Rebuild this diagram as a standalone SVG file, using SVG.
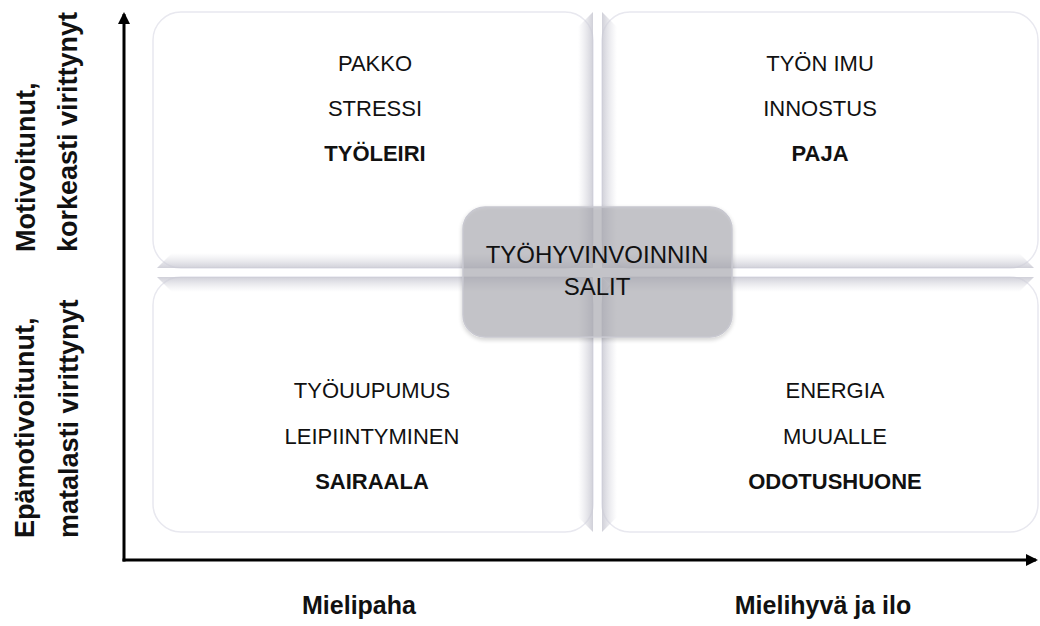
<svg xmlns="http://www.w3.org/2000/svg" width="1040" height="626" viewBox="0 0 1040 626">
<style>
.q{fill:#ffffff;stroke:#e8e8ef;stroke-width:1.5}
.t{font-family:"Liberation Sans",Arial,sans-serif;font-size:22px;fill:#111;text-anchor:middle}
.b{font-weight:bold}
.ax{font-family:"Liberation Sans",Arial,sans-serif;font-weight:bold;fill:#111}
.axis{stroke:#000;stroke-width:3;fill:none}
</style>
<defs>
<marker id="ah" viewBox="0 0 12 12" refX="10" refY="6" markerWidth="12" markerHeight="12" markerUnits="userSpaceOnUse" orient="auto">
<path d="M0,0 L12,6 L0,12 Z" fill="#000"/>
</marker>
<linearGradient id="gDown" x1="0" y1="0" x2="0" y2="1">
<stop offset="0" stop-color="#d8d8e0" stop-opacity="0"/>
<stop offset="1" stop-color="#c8c8d2" stop-opacity="0.85"/>
</linearGradient>
<linearGradient id="gUp" x1="0" y1="1" x2="0" y2="0">
<stop offset="0" stop-color="#d8d8e0" stop-opacity="0"/>
<stop offset="1" stop-color="#c8c8d2" stop-opacity="0.85"/>
</linearGradient>
<linearGradient id="gRight" x1="0" y1="0" x2="1" y2="0">
<stop offset="0" stop-color="#d8d8e0" stop-opacity="0"/>
<stop offset="1" stop-color="#c8c8d2" stop-opacity="0.85"/>
</linearGradient>
<linearGradient id="gLeft" x1="1" y1="0" x2="0" y2="0">
<stop offset="0" stop-color="#d8d8e0" stop-opacity="0"/>
<stop offset="1" stop-color="#c8c8d2" stop-opacity="0.85"/>
</linearGradient>
<filter id="sh" x="-10%" y="-10%" width="120%" height="130%">
<feGaussianBlur in="SourceAlpha" stdDeviation="2"/>
<feOffset dx="0" dy="2" result="o"/>
<feComponentTransfer><feFuncA type="linear" slope="0.25"/></feComponentTransfer>
<feMerge><feMergeNode/><feMergeNode in="SourceGraphic"/></feMerge>
</filter>
</defs>

<g id="quadrants">
<g id="q-tl">
<rect class="q" x="153" y="12" width="440" height="256" rx="28"/>
<polygon points="157,268 172,253 578,253 593,268" fill="url(#gDown)"/>
<polygon points="593,268 578,253 578,27 593,12" fill="url(#gRight)"/>
<text class="t" x="375" y="71">PAKKO</text>
<text class="t" x="375" y="116">STRESSI</text>
<text class="t b" x="375" y="161">TYÖLEIRI</text>
</g>
<g id="q-tr">
<rect class="q" x="602" y="12" width="436" height="256" rx="28"/>
<polygon points="602,268 617,253 1019,253 1034,268" fill="url(#gDown)"/>
<polygon points="602,268 617,253 617,27 602,12" fill="url(#gLeft)"/>
<text class="t" x="820" y="71">TYÖN IMU</text>
<text class="t" x="820" y="116">INNOSTUS</text>
<text class="t b" x="820" y="161">PAJA</text>
</g>
<g id="q-bl">
<rect class="q" x="153" y="277" width="440" height="255" rx="28"/>
<polygon points="157,277 172,292 578,292 593,277" fill="url(#gUp)"/>
<polygon points="593,277 578,292 578,517 593,532" fill="url(#gRight)"/>
<text class="t" x="372" y="398">TYÖUUPUMUS</text>
<text class="t" x="372" y="444">LEIPIINTYMINEN</text>
<text class="t b" x="372" y="489">SAIRAALA</text>
</g>
<g id="q-br">
<rect class="q" x="602" y="277" width="436" height="255" rx="28"/>
<polygon points="602,277 617,292 1019,292 1034,277" fill="url(#gUp)"/>
<polygon points="602,277 617,292 617,517 602,532" fill="url(#gLeft)"/>
<text class="t" x="835" y="398">ENERGIA</text>
<text class="t" x="835" y="444">MUUALLE</text>
<text class="t b" x="835" y="489">ODOTUSHUONE</text>
</g>
</g>

<g id="center">
<rect x="463" y="207" width="269" height="130" rx="22" fill="#a8a8b2" fill-opacity="0.58" stroke="#c8c8d0" stroke-width="1.5" filter="url(#sh)"/>
<text class="t" style="font-size:24px" x="597" y="263">TYÖHYVINVOINNIN</text>
<text class="t" style="font-size:24px" x="597" y="295">SALIT</text>
</g>

<g id="connectors">
<line class="axis" x1="124" y1="561.5" x2="124" y2="14" marker-end="url(#ah)"/>
<line class="axis" x1="122.5" y1="560" x2="1036" y2="560" marker-end="url(#ah)"/>
</g>

<g id="axis-labels">
<text class="ax" font-size="25" x="359" y="614" text-anchor="middle">Mielipaha</text>
<text class="ax" font-size="25" x="823" y="614" text-anchor="middle">Mielihyvä ja ilo</text>
<text class="ax" font-size="27" transform="translate(35,252) rotate(-90)">Motivoitunut,</text>
<text class="ax" font-size="27" transform="translate(77,252) rotate(-90)">korkeasti virittynyt</text>
<text class="ax" font-size="27" transform="translate(34,538) rotate(-90)">Epämotivoitunut,</text>
<text class="ax" font-size="27" transform="translate(78,538) rotate(-90)">matalasti virittynyt</text>
</g>
</svg>
